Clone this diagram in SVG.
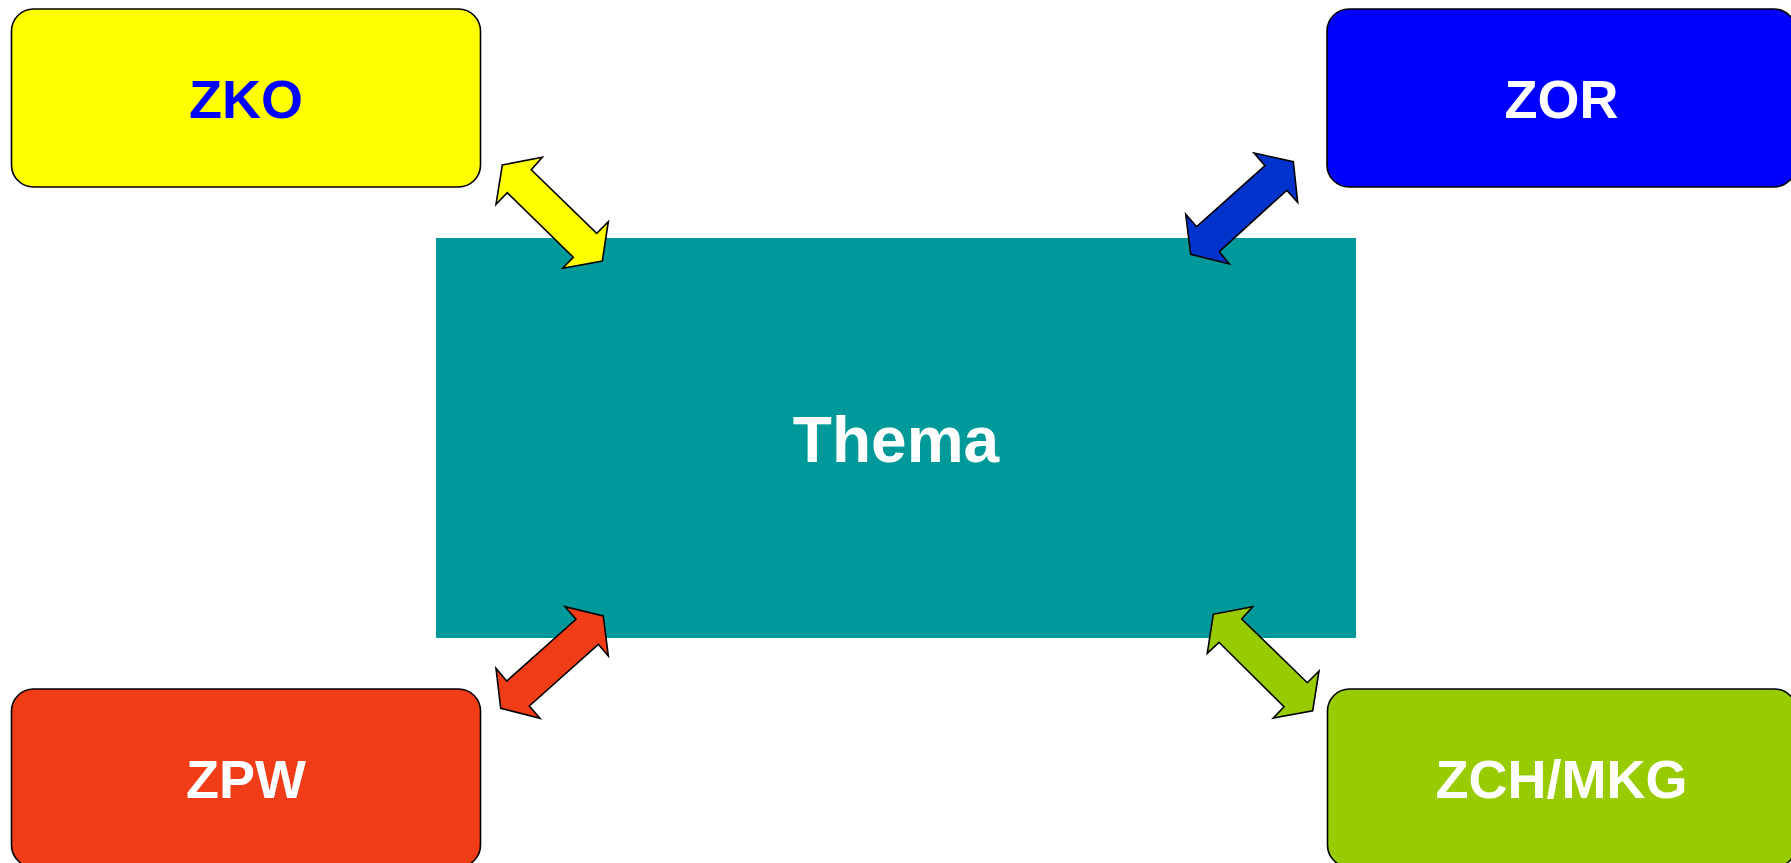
<svg xmlns="http://www.w3.org/2000/svg" width="1791" height="863" viewBox="0 0 1791 863">
  <style>
    .box { stroke: #000000; stroke-width: 1.6; }
    .arrow { stroke: #000000; stroke-width: 1.6; stroke-linejoin: miter; }
    .label { font-family: "Liberation Sans", Arial, sans-serif; font-weight: bold; font-size: 54px; text-anchor: middle; }
  </style>
  <rect width="1791" height="863" fill="#FFFFFF"/>

  <!-- central topic -->
  <g id="thema">
    <rect x="436" y="238" width="920" height="400" fill="#009999"/>
    <text class="label" x="896" y="461.5" font-size="64" fill="#FFFFFF" style="font-size:64px">Thema</text>
  </g>

  <g id="zko">
    <rect class="box" x="11.5" y="9" width="469" height="178" rx="22" ry="22" fill="#FFFF00"/>
    <text class="label" x="246" y="118" fill="#0000FF">ZKO</text>
  </g>

  <g id="zor">
    <rect class="box" x="1327" y="9" width="469" height="178" rx="22" ry="22" fill="#0000FF"/>
    <text class="label" x="1561.5" y="118" fill="#FFFFFF">ZOR</text>
  </g>

  <g id="zpw">
    <rect class="box" x="11.5" y="689" width="469" height="178" rx="22" ry="22" fill="#F03D18"/>
    <text class="label" x="246" y="798" fill="#FFFFFF">ZPW</text>
  </g>

  <g id="zch-mkg">
    <rect class="box" x="1327.5" y="689" width="469" height="178" rx="22" ry="22" fill="#99CC00"/>
    <text class="label" x="1561.5" y="798" fill="#FFFFFF">ZCH/MKG</text>
  </g>

  <!-- double-headed block arrows between the topic and each unit -->
  <g id="connectors">
    <polygon class="arrow" fill="#FFFF00" points="502.3,165 542.3,157.3 531.3,169.7 596.7,233.3 608.3,221.7 602.3,261 562.7,268.3 573.3,257.3 507.3,192.7 496,204.3"/>
    <polygon class="arrow" fill="#0033CC" points="1293.3,161.7 1297.7,202.3 1286.7,190.3 1219.3,251.7 1229.3,264 1190.7,254.3 1185.7,214.3 1196.7,226.7 1265,165.7 1254,153"/>
    <polygon class="arrow" fill="#F03D18" points="603.3,616 608.3,656 598.3,644.3 529.3,706 540,718.3 500.7,708.3 496,668.3 506.7,681 576,619.3 565,606.7"/>
    <polygon class="arrow" fill="#99CC00" points="1213.3,614.3 1252.7,606.7 1241.7,619 1307.3,682.7 1319,671 1312.7,710.7 1273.3,718 1284,706.7 1219,642.3 1207.3,653.3"/>
  </g>
</svg>
